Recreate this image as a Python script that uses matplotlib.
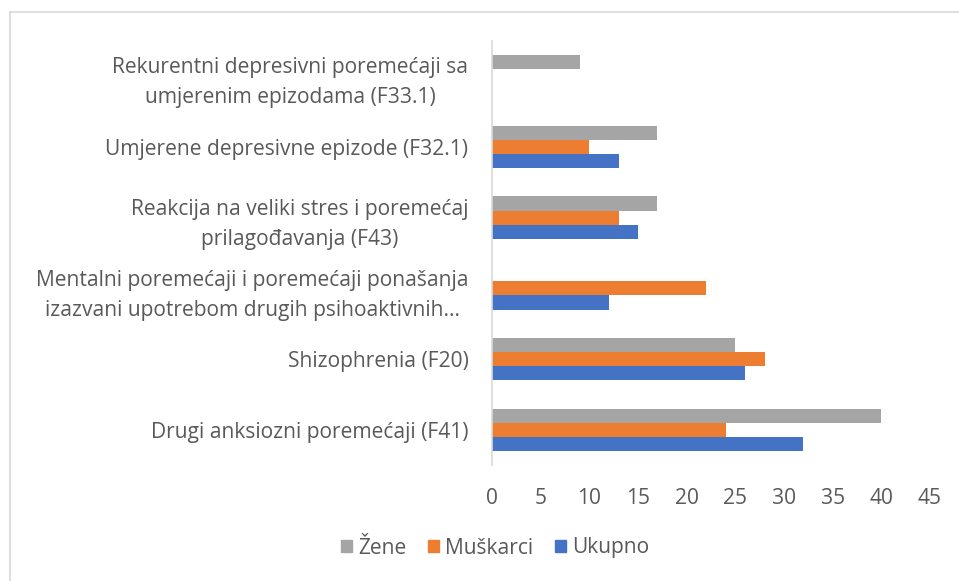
import matplotlib
matplotlib.use("Agg")
import matplotlib.pyplot as plt
from matplotlib.lines import Line2D
from matplotlib.patches import Patch
import numpy as np

categories = [
    "Drugi anksiozni poremećaji (F41)",
    "Shizophrenia (F20)",
    "Mentalni poremećaji i poremećaji ponašanja\nizazvani upotrebom drugih psihoaktivnih...",
    "Reakcija na veliki stres i poremećaj\nprilagođavanja (F43)",
    "Umjerene depresivne epizode (F32.1)",
    "Rekurentni depresivni poremećaji sa\numjerenim epizodama (F33.1)",
]
zene = [40, 25, 0, 17, 17, 9]
muskarci = [24, 28, 22, 13, 10, 0]
ukupno = [32, 26, 12, 15, 13, 0]
series_names = ["Žene", "Muškarci", "Ukupno"]
colors = ["#a5a5a5", "#ed7d31", "#4472c4"]
xticks = [0, 5, 10, 15, 20, 25, 30, 35, 40, 45]

plt.rcParams['font.family'] = ['Open Sans', 'DejaVu Sans']
txt = "#595959"
fs = 15.1

fig = plt.figure(figsize=(9.59, 5.81), dpi=100)
ax = fig.add_axes([492/959, 1-465.4/581, (930-492)/959, 424.8/581])

y = np.arange(len(categories))
h = 0.2
ax.barh(y + h, zene, height=h, color=colors[0], label=series_names[0])
ax.barh(y, muskarci, height=h, color=colors[1], label=series_names[1])
ax.barh(y - h, ukupno, height=h, color=colors[2], label=series_names[2])

ax.set_xlim(0, 45)
ax.set_ylim(-0.5, len(categories) - 0.5)
ax.set_xticks(xticks)
ax.set_xticklabels([str(t) for t in xticks])
ax.set_yticks(y)
ax.set_yticklabels(categories, ha='right', multialignment='center', linespacing=1.55)
ax.tick_params(axis='y', length=0, pad=17, labelsize=fs, labelcolor=txt)
ax.tick_params(axis='x', length=0, pad=16, labelsize=fs, labelcolor=txt)
for s in ['top', 'right', 'bottom']:
    ax.spines[s].set_visible(False)
ax.spines['left'].set_color('#d9d9d9')
ax.spines['left'].set_linewidth(1.2)

handles = [Patch(color=c) for c in colors]
leg = fig.legend(handles, series_names, loc='center', bbox_to_anchor=(495/959, 1-548/581),
                 ncol=3, frameon=False, fontsize=fs, handlelength=0.55, handleheight=0.55,
                 handletextpad=0.3, columnspacing=1.0, labelcolor=txt)

# outer chart frame
fig.add_artist(Line2D([10/959, 1], [1-12/581, 1-12/581], color='#d9d9d9', lw=1.2))
fig.add_artist(Line2D([10/959, 10/959], [0, 1-12/581], color='#d9d9d9', lw=1.2))

fig.savefig("out.png", dpi=100)
